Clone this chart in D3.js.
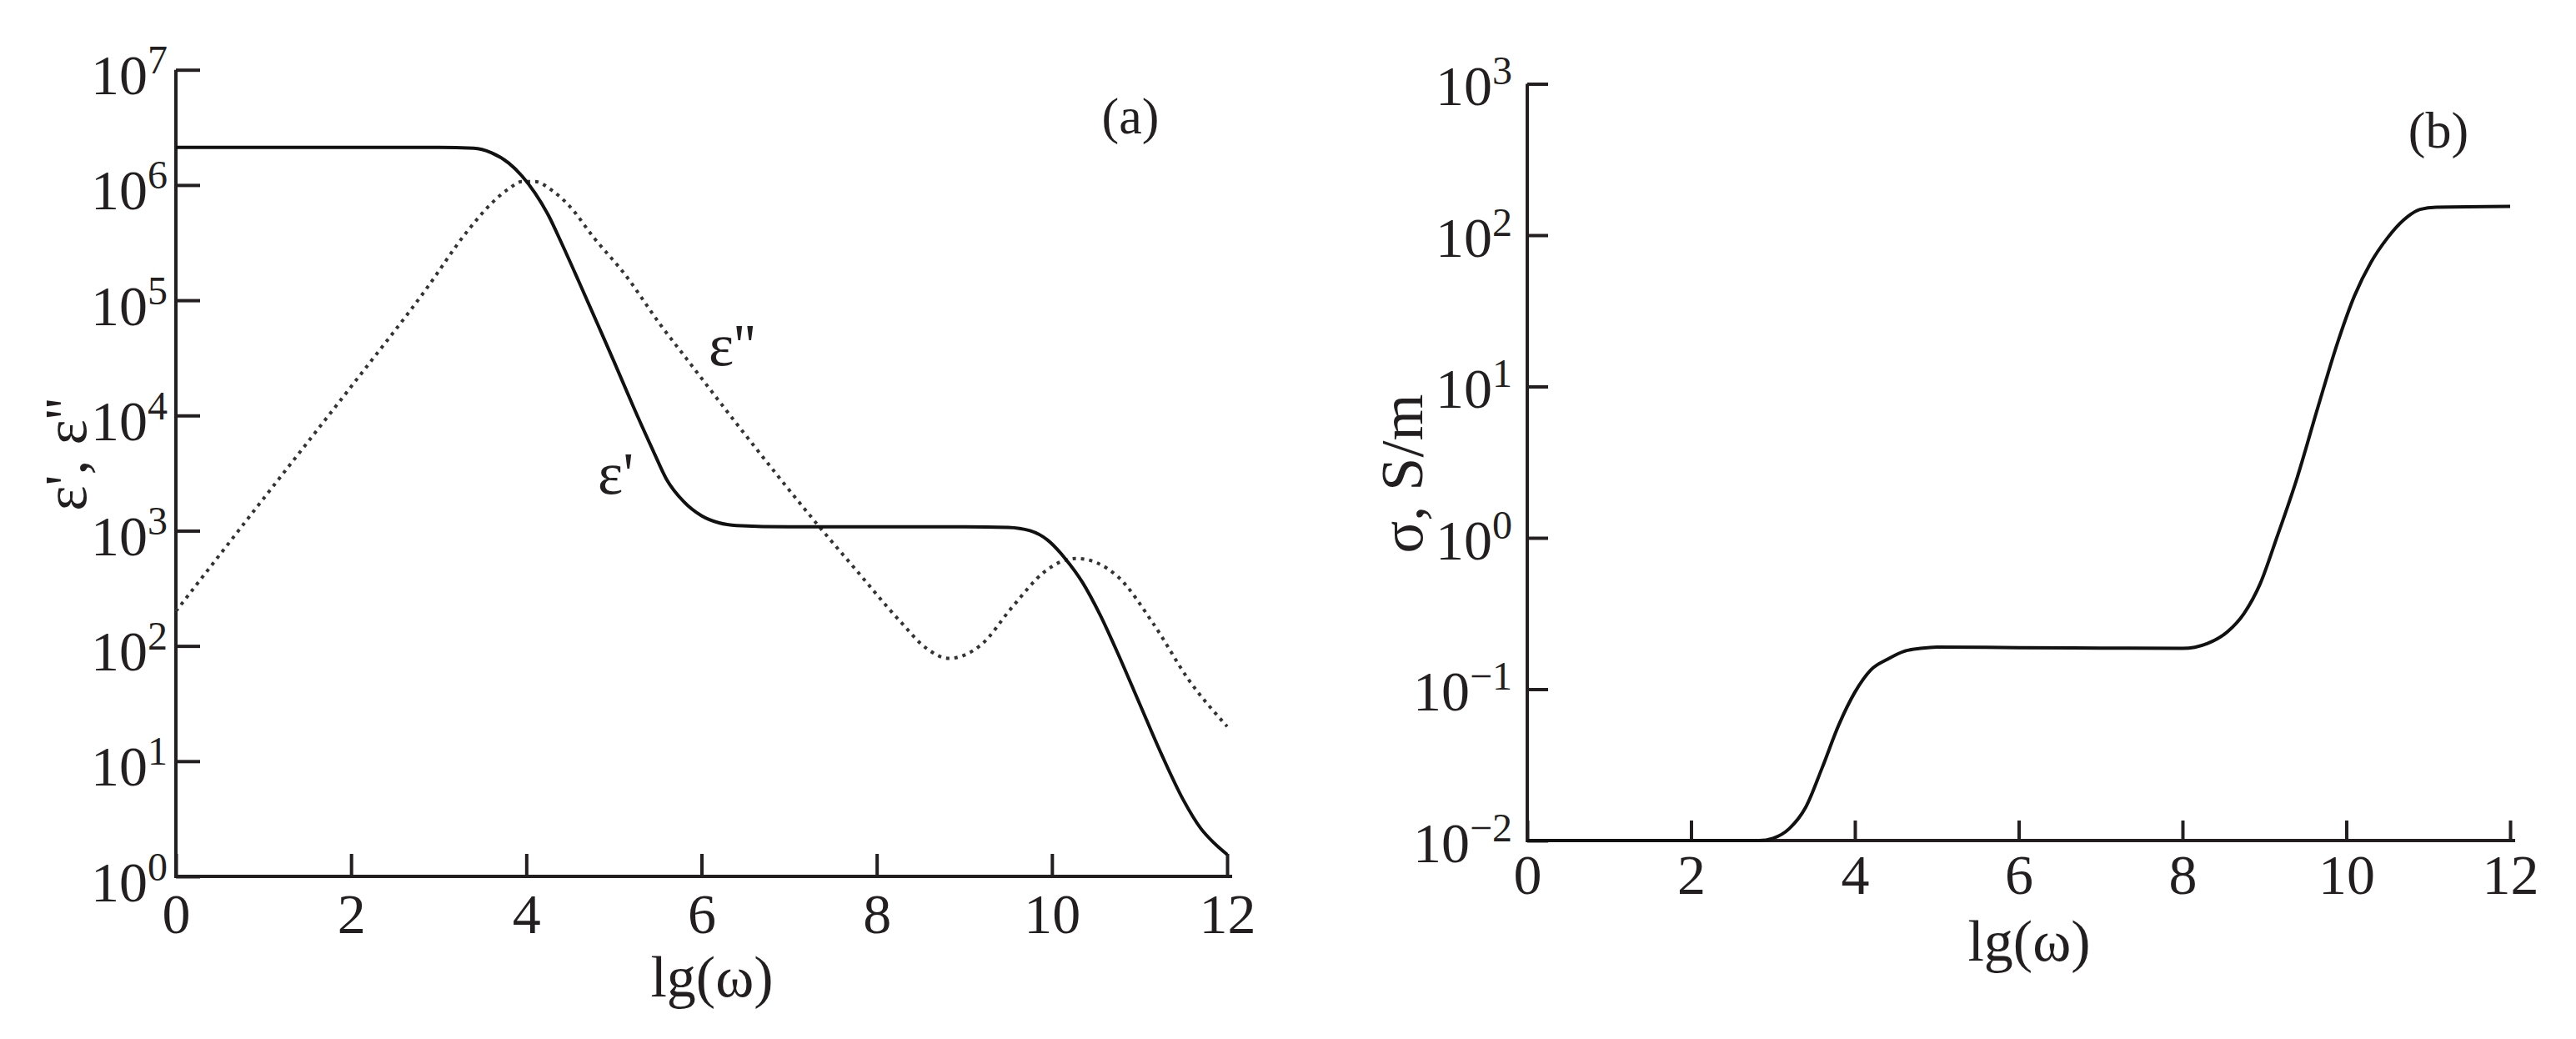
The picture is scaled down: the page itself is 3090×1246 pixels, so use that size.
<!DOCTYPE html>
<html lang="en">
<head>
<meta charset="UTF-8">
<title>Permittivity and conductivity vs lg(omega)</title>
<script src="https://cdnjs.cloudflare.com/ajax/libs/d3/7.8.5/d3.min.js"></script>
<style>
  body { margin: 0; background: white; }
  svg text { font-family: "Liberation Serif", "Times New Roman", serif; fill: #231f20; }
</style>
</head>
<body>
<svg id="chart" width="3090" height="1246"></svg>
<script>
// panel (a): real part of permittivity (solid)
const epsRealX = [0, 1, 2, 3, 3.4, 3.6, 3.8, 3.95, 4.1, 4.25, 4.4, 4.6, 4.81, 5.0, 5.22, 5.45, 5.6, 5.8, 6.0, 6.2, 6.4, 7, 8, 9, 9.5, 9.75, 9.95, 10.15, 10.35, 10.55, 10.75, 11.0, 11.25, 11.5, 11.7, 11.85, 12];
const epsRealY = [2.12e6, 2.12e6, 2.12e6, 2.12e6, 2.09e6, 1.91e6, 1.55e6, 1.2e6, 8.5e5, 5.5e5, 3.16e5, 1.45e5, 6.3e4, 2.95e4, 1.2e4, 4.9e3, 2.8e3, 1.78e3, 1.35e3, 1.17e3, 1.11e3, 1.08e3, 1.08e3, 1.08e3, 1.07e3, 1.0e3, 830, 575, 355, 186, 87, 31.6, 11.5, 4.6, 2.6, 1.95, 1.55];

// panel (a): imaginary part of permittivity (dotted)
const epsImagX = [0, 1, 2, 2.84, 3.33, 3.6, 3.8, 3.95, 4.1, 4.3, 4.49, 4.77, 5.13, 5.54, 5.83, 6.4, 7.35, 7.75, 8.26, 8.57, 8.82, 9.19, 9.55, 9.91, 10.1, 10.28, 10.74, 11.16, 11.56, 12];
const epsImagY = [200, 1.9e3, 1.78e4, 1.2e5, 4.0e5, 6.9e5, 9.3e5, 1.07e6, 1.07e6, 8.9e5, 6.6e5, 3.5e5, 1.66e5, 6.0e4, 3.1e4, 8.5e3, 1.07e3, 470, 166, 95, 78, 102, 219, 437, 537, 575, 407, 155, 51, 20];

// panel (b): conductivity, S/m
const sigmaX = [0, 1, 2, 2.83, 3.0, 3.2, 3.4, 3.6, 3.8, 4.0, 4.2, 4.4, 4.6, 4.8, 5.0, 6, 7, 8.0, 8.3, 8.55, 8.75, 8.95, 9.15, 9.4, 9.65, 9.9, 10.1, 10.3, 10.5, 10.7, 10.9, 11.1, 12];
const sigmaY = [0.01, 0.01, 0.01, 0.01, 0.01035, 0.012, 0.0166, 0.0302, 0.0575, 0.0955, 0.135, 0.158, 0.178, 0.186, 0.19, 0.188, 0.187, 0.186, 0.2, 0.24, 0.316, 0.5, 1.0, 2.5, 7.2, 20, 39.8, 66, 95.5, 126, 148, 153, 155];

// axis ticks
const xTicks = [0, 2, 4, 6, 8, 10, 12];
const epsTicks = [1e0, 1e1, 1e2, 1e3, 1e4, 1e5, 1e6, 1e7];
const sigmaTicks = [1e-2, 1e-1, 1e0, 1e1, 1e2, 1e3];

const ink = "#231f20";
const svg = d3.select("#chart");
svg.append("rect").attr("width", 3090).attr("height", 1246).attr("fill", "white");

function toPoints(xs, ys) {
  return xs.map((x, i) => ({x: x, y: ys[i]}));
}

// draws axes of one panel, returns the scales
function drawPanel(p) {
  const x = d3.scaleLinear().domain([0, 12]).range([p.left, p.right]);
  const y = d3.scaleLog().domain(p.yDomain).range([p.bottom, p.top]);
  const g = svg.append("g");

  // y axis, ticks pointing inward
  const yAxis = d3.axisLeft(y).tickValues(p.yTicks).tickSizeInner(-p.yTickLen)
    .tickSizeOuter(0).tickPadding(p.yPad).tickFormat(() => "");
  const gy = g.append("g").attr("transform", `translate(${p.left},0)`).call(yAxis);
  gy.select(".domain").remove();
  gy.selectAll(".tick line").attr("stroke", ink).attr("stroke-width", 4);
  gy.selectAll(".tick text").each(function(d) {
    const t = d3.select(this).attr("dy", null).attr("fill", ink);
    const e = Math.round(Math.log10(d));
    t.append("tspan").attr("dy", p.yLabelDy).attr("font-size", 68).text("10");
    t.append("tspan").attr("dy", -25).attr("font-size", 48).text(String(e).replace("-", "\u2212"));
  });
  gy.attr("font-size", 68).attr("font-family", null);

  // x axis
  const xAxis = d3.axisBottom(x).tickValues(xTicks).tickSizeInner(-p.xTickLen)
    .tickSizeOuter(0).tickPadding(p.xPad).tickFormat(d3.format("d"));
  const gx = g.append("g").attr("transform", `translate(0,${p.bottom})`).call(xAxis);
  gx.select(".domain").remove();
  gx.selectAll(".tick line").attr("stroke", ink).attr("stroke-width", 4);
  gx.selectAll(".tick text").attr("fill", ink);
  gx.attr("font-size", 68).attr("font-family", null);

  // axis lines
  g.append("path")
    .attr("d", `M${x(0)},${y(p.yDomain[1])}V${y(p.yDomain[0])}H${x(12) + 6}`)
    .attr("fill", "none").attr("stroke", ink).attr("stroke-width", 4);

  // axis titles
  g.append("text").attr("x", p.xTitle[0]).attr("y", p.xTitle[1])
    .attr("text-anchor", "middle").attr("font-size", 70).text("lg(\u03C9)");
  g.append("text")
    .attr("transform", `translate(${p.yTitle[0]},${p.yTitle[1]}) rotate(-90)`)
    .attr("text-anchor", "middle").attr("font-size", 72).text(p.yTitleText);

  // panel letter
  g.append("text").attr("x", p.letterPos[0]).attr("y", p.letterPos[1])
    .attr("text-anchor", "middle").attr("font-size", 62).text(p.letter);

  return {x, y, g};
}

const a = drawPanel({
  left: 211, right: 1472, top: 83.7, bottom: 1051,
  yDomain: [1e0, 1e7], yTicks: epsTicks, yTickLen: 29, xTickLen: 27,
  yPad: 10, xPad: 20, yLabelDy: 29,
  xTitle: [854, 1195], yTitle: [103, 545], yTitleText: "\u03B5', \u03B5''",
  letter: "(a)", letterPos: [1356, 160]
});

const b = drawPanel({
  left: 1832, right: 3011, top: 100.5, bottom: 1008,
  yDomain: [1e-2, 1e3], yTicks: sigmaTicks, yTickLen: 25, xTickLen: 24,
  yPad: 18, xPad: 16, yLabelDy: 25,
  xTitle: [2434, 1152], yTitle: [1706, 568], yTitleText: "\u03C3, S/m",
  letter: "(b)", letterPos: [2925, 177]
});

// curves
const lineA = d3.line().x(d => a.x(d.x)).y(d => a.y(d.y)).curve(d3.curveMonotoneX);
const lineB = d3.line().x(d => b.x(d.x)).y(d => b.y(d.y)).curve(d3.curveMonotoneX);

a.g.append("path").datum(toPoints(epsImagX, epsImagY))
  .attr("d", lineA).attr("fill", "none")
  .attr("stroke", "#333").attr("stroke-width", 4).attr("stroke-dasharray", "4 6");

a.g.append("path").datum(toPoints(epsRealX, epsRealY))
  .attr("d", lineA).attr("fill", "none")
  .attr("stroke", "#111").attr("stroke-width", 4);

b.g.append("path").datum(toPoints(sigmaX, sigmaY))
  .attr("d", lineB).attr("fill", "none")
  .attr("stroke", "#111").attr("stroke-width", 4);

// curve labels
a.g.append("text").attr("x", 850).attr("y", 438).attr("font-size", 72).text("\u03B5''");
a.g.append("text").attr("x", 717).attr("y", 592).attr("font-size", 72).text("\u03B5'");
</script>
</body>
</html>
